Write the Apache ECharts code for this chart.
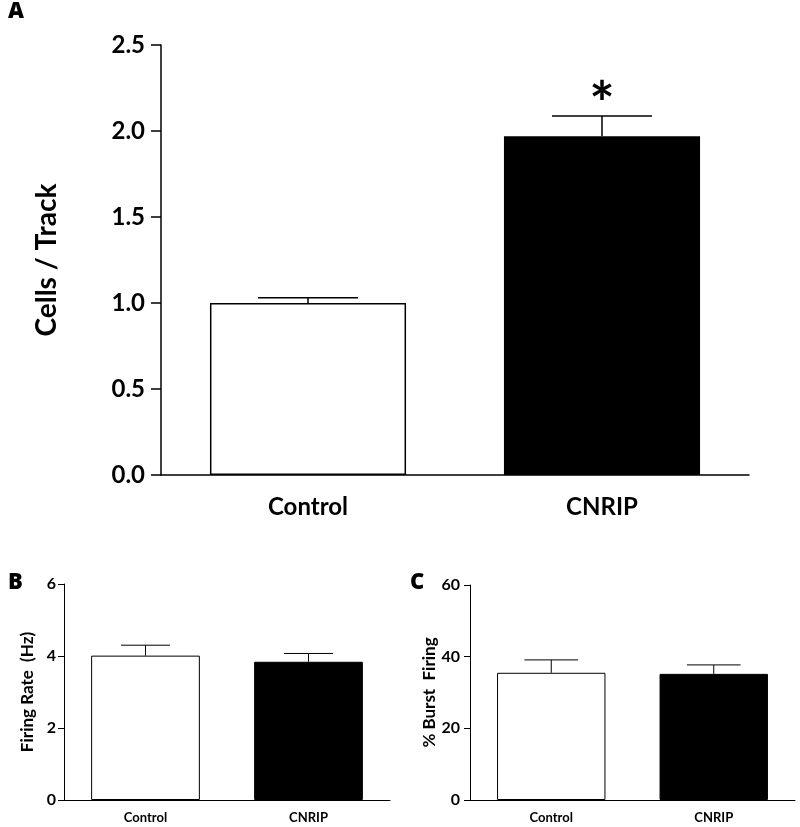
<!DOCTYPE html>
<html><head><meta charset="utf-8">
<script src="https://cdn.jsdelivr.net/npm/echarts@6/dist/echarts.min.js"></script>
<style>html,body{margin:0;padding:0;background:#fff}#c{width:800px;height:827px}</style>
</head><body><div id="c"></div>
<script>
const categories = ['Control', 'CNRIP'];
const cellsMean = [1.0, 1.97];
const cellsErr = [0.03, 0.117];
const cellsSig = ['', '*'];
const rateMean = [4.01, 3.84];
const rateErr = [0.29, 0.23];
const burstMean = [35.5, 35.2];
const burstErr = [3.6, 2.5];
const barColors = ['#ffffff', '#000000'];

const FONT = 'Lato';
const chart = echarts.init(document.getElementById('c'), null, {renderer: 'canvas'});

function barData(means) {
  return means.map((v, i) => ({value: v, itemStyle: {color: barColors[i]}}));
}
function errData(means, errs, sig) {
  return means.map((v, i) => [i, v, v + errs[i], sig ? sig[i] : '']);
}
function errSeries(idx, means, errs, capFrac, lw, sig, sigSize, sigGap) {
  return {
    type: 'custom', xAxisIndex: idx, yAxisIndex: idx, z: 5,
    data: errData(means, errs, sig),
    renderItem: function (params, api) {
      const x = api.value(0);
      const lo = api.coord([x, api.value(1)]);
      const hi = api.coord([x, api.value(2)]);
      const half = api.size([1, 0])[0] * capFrac / 2;
      const st = {stroke: '#000', lineWidth: lw};
      const children = [
        {type: 'line', shape: {x1: lo[0], y1: lo[1], x2: hi[0], y2: hi[1]}, style: st},
        {type: 'line', shape: {x1: hi[0] - half, y1: hi[1], x2: hi[0] + half, y2: hi[1]}, style: st}
      ];
      const s = api.value(3);
      if (s) {
        children.push({type: 'text', style: {text: s, x: hi[0], y: hi[1] - sigGap, align: 'center', verticalAlign: 'middle',
          fontFamily: FONT, fontWeight: 'bold', fontSize: sigSize, fill: '#000'}});
      }
      return {type: 'group', children: children};
    }
  };
}
function xAx(idx, fs, lw, tickLen, margin) {
  return {gridIndex: idx, type: 'category', data: categories,
    axisLine: {lineStyle: {color: '#000', width: lw}},
    axisTick: {alignWithLabel: true, length: tickLen, lineStyle: {color: '#000', width: lw}},
    axisLabel: {color: '#000', fontFamily: FONT, fontWeight: 'bold', fontSize: fs, margin: margin}};
}
function yAx(idx, min, max, interval, fs, lw, tickLen, margin, name, nfs, gap, fmt) {
  return {gridIndex: idx, type: 'value', min: min, max: max, interval: interval,
    name: name, nameLocation: 'middle', nameGap: gap,
    nameTextStyle: {color: '#000', fontFamily: FONT, fontWeight: 'bold', fontSize: nfs},
    axisLine: {show: true, lineStyle: {color: '#000', width: lw}},
    axisTick: {show: true, length: tickLen, lineStyle: {color: '#000', width: lw}},
    splitLine: {show: false},
    axisLabel: {color: '#000', fontFamily: FONT, fontWeight: 'bold', fontSize: fs, margin: margin, formatter: fmt}};
}
function barSeries(idx, means, bw) {
  return {type: 'bar', xAxisIndex: idx, yAxisIndex: idx, barWidth: '66.7%', data: barData(means),
    itemStyle: {borderColor: '#000', borderWidth: bw}, z: 3};
}
function letter(t, left, top) {
  return {type: 'text', left: left, top: top,
    style: {text: t, fontFamily: 'Open Sans', fontWeight: 800, fontSize: 22, fill: '#000'}};
}

chart.setOption({
  animation: false,
  backgroundColor: '#fff',
  grid: [
    {left: 161, right: 51, top: 45, bottom: 352},
    {left: 64, right: 410, top: 584, bottom: 27},
    {left: 470, right: 5, top: 585, bottom: 27}
  ],
  xAxis: [xAx(0, 24, 1.5, 12, 20), xAx(1, 13, 1, 8, 11), xAx(2, 13, 1, 8, 11)],
  yAxis: [
    yAx(0, 0, 2.5, 0.5, 24, 1.5, 10, 16, 'Cells / Track', 28, 100, v => v.toFixed(1)),
    yAx(1, 0, 6, 2, 16, 1, 6, 8, 'Firing Rate  (Hz)', 17, 28, v => v),
    yAx(2, 0, 60, 20, 16, 1, 6, 10, '% Burst  Firing', 17, 30, v => v)
  ],
  series: [
    barSeries(0, cellsMean, 1.5),
    errSeries(0, cellsMean, cellsErr, 0.34, 1.5, cellsSig, 60, 10),
    barSeries(1, rateMean, 1),
    errSeries(1, rateMean, rateErr, 0.30, 1, null),
    barSeries(2, burstMean, 1),
    errSeries(2, burstMean, burstErr, 0.33, 1, null)
  ],
  graphic: [letter('A', 8, 1), letter('B', 8, 572), letter('C', 410, 572)]
});
</script></body></html>
